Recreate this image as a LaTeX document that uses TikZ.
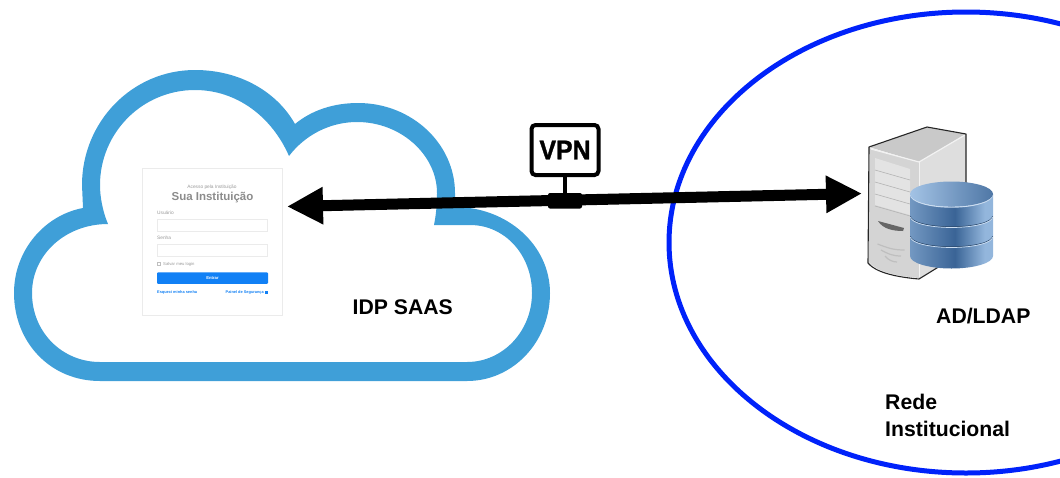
\documentclass[tikz,border=0pt]{standalone}
\usepackage{fontspec}
\setmainfont{Liberation Sans}
\newfontfamily\vpnfont[FakeBold=1.2,FakeStretch=0.92]{Liberation Sans Bold}
\usetikzlibrary{arrows.meta,calc}
\definecolor{cloudblue}{HTML}{3F9FD8}
\definecolor{netblue}{HTML}{0022FA}
\definecolor{formblue}{HTML}{1180F5}
\definecolor{dbdark}{HTML}{3A6496}
\definecolor{dbmid}{HTML}{7398C2}
\definecolor{dbside}{HTML}{93B6DC}
\definecolor{dblight}{HTML}{A3C3E5}
\pgfdeclarehorizontalshading{dbshade}{100bp}{
  color(0bp)=(dbmid); color(25bp)=(dbmid);
  color(52bp)=(dbdark); color(70bp)=(dbside); color(75bp)=(dbside); color(100bp)=(dbside)}
\tikzset{
  lbl/.style={font=\bfseries\fontsize{21.2}{24}\selectfont,text=black,inner sep=0pt,align=left},
  field/.style={draw=black!8,line width=.5pt,fill=white,minimum width=110pt,minimum height=12pt,inner sep=0pt},
  tiny/.style={font=\fontsize{4.8}{5}\selectfont,text=black!40,inner sep=0pt},
  tinyb/.style={font=\bfseries\fontsize{3.9}{5}\selectfont,text=formblue,inner sep=0pt},
}
\begin{document}
\begin{tikzpicture}[x=1pt,y=-1pt]
\useasboundingbox (0,0) rectangle (1060,477);
\clip (0,0) rectangle (1060,477);
% network ellipse
\draw[netblue,line width=5pt] (966,242.5) ellipse [x radius=297,y radius=230.5];
% cloud
\fill[cloudblue,even odd rule]
  (100,381) .. controls (50,381) and (14,342) .. (14,293)
  .. controls (14,250) and (45,215) .. (83,208)
  -- (82,185) .. controls (82,122) and (132,70) .. (195,70)
  .. controls (240,70) and (277,92) .. (295,124)
  .. controls (312,110) and (334,103) .. (358,103)
  .. controls (412,103) and (455,144) .. (455,193)
  -- (455,207) .. controls (507,207) and (550,245) .. (550,293)
  .. controls (550,342) and (513,381) .. (467,381) -- cycle
  (100,362) .. controls (62,362) and (32,332) .. (32,293)
  .. controls (32,255) and (65,224) .. (108,224)
  .. controls (103,212) and (100,198) .. (100,185)
  .. controls (100,133) and (142,90) .. (195,90)
  .. controls (237,90) and (272,117) .. (289,156)
  .. controls (305,135) and (330,122) .. (357,122)
  .. controls (401,122) and (437,155) .. (437,193)
  .. controls (437,205) and (436,215) .. (434,225)
  -- (470,225) .. controls (505,225) and (532,255) .. (532,293)
  .. controls (532,331) and (503,362) .. (467,362) -- cycle;
% login form
\node[draw=black!8,line width=.7pt,fill=white,minimum width=140pt,minimum height=147pt,inner sep=0pt] (form) at (212.5,242) {};
\node[tiny] (t1) at (212,187) {Acesso pela Instituição};
\node[font=\bfseries\fontsize{11.5}{13}\selectfont,text=black!45,inner sep=0pt] (t2) at (212.5,198) {Sua Instituição};
\node[tiny,anchor=west] (t3) at (157,213) {Usuário};
\node[field] (f1) at (212,225) {};
\node[tiny,anchor=west] (t4) at (157,238) {Senha};
\node[field] (f2) at (212,250) {};
\node[draw=black!25,line width=.3pt,minimum size=3pt,inner sep=0pt] (cb) at (159,264) {};
\node[tiny,font=\fontsize{4.2}{5}\selectfont,anchor=west] (t5) at (163,264) {Salvar meu login};
\node[fill=formblue,minimum width=111pt,minimum height=11.5pt,inner sep=0pt,rounded corners=1pt,text=white,font=\bfseries\fontsize{4.2}{5}\selectfont] (btn) at (212.5,278) {Entrar};
\node[tinyb,anchor=west] (l1) at (157,292) {Esqueci minha senha};
\node[tinyb,anchor=east] (l2) at (264,292) {Painel de Segurança};
\fill[formblue] (265,290.5) rectangle (268,293.5);
% server
\path (869,147) coordinate (sA) (927,127) coordinate (sB) (966,134) coordinate (sC)
      (919,162) coordinate (sD) (919,279) coordinate (sE) (868,263) coordinate (sF) (966,250) coordinate (sG);
\fill[black!21] (sA) -- (sB) -- (sC) -- (sD) -- cycle;
\fill[black!13] (sD) -- (sC) -- (sG) -- (sE) -- cycle;
\fill[black!17] (869,148) -- (919,162) -- (919,278) .. controls (895,276) and (875,271) .. (869,262) -- cycle;
\draw[black!5,line width=1.2pt] (871,149) -- (sD) -- (965,135);
\draw[black!5,line width=1pt] (sD) -- (919,277);
\draw[black!85,line width=1.1pt,line join=round] (sA) -- (sB) -- (sC) -- (sG) -- (sE) .. controls (895,277) and (875,272) .. (sF) -- cycle;
\fill[black!11] (875,158) -- (910,169) -- (910,215) -- (875,205) -- cycle;
\foreach \y in {0,1,2,3} \draw[black!30,line width=.6pt] (875,{170+\y*12}) -- (910,{180+\y*12});
\fill[black!60] (878,221) -- (904,228) -- (903,231) .. controls (893,231) and (883,229) .. (878,221) -- cycle;
\foreach \y/\w in {0/27,1/20,2/12} \draw[black!25,line width=1.2pt] ({891-\w/2},{244+\y*6}) .. controls (888,{248+\y*6}) and (893,{250+\y*6}) .. ({891+\w/2},{250+\y*6});
% database
\shade[shading=dbshade] (910,194) -- (910,256) arc[start angle=180,end angle=0,x radius=41.5,y radius=12.5] -- (993,194) -- cycle;
\foreach \y in {217,237} {
  \draw[dbdark!70!black,line width=.6pt] (910.5,{\y-.8}) arc[start angle=180,end angle=0,x radius=41,y radius=10.5];
  \draw[dblight!55!white,line width=.7pt] (910.5,\y) arc[start angle=180,end angle=0,x radius=41,y radius=10.5];
}
\draw[dblight!55!white,line width=1.4pt] (910.5,194.5) arc[start angle=180,end angle=0,x radius=41,y radius=12.5];
\shade[left color=dblight,right color=dbdark!80!dblight] (951.5,194) ellipse [x radius=41.5,y radius=12.5];
% VPN badge
\node[draw=black,line width=4pt,fill=white,rounded corners=4pt,minimum width=67pt,minimum height=50pt,inner sep=0pt,font=\vpnfont\fontsize{27}{30}\selectfont] (vpn) at (565,150) {VPN};
\coordinate (mid) at (565,200);
\draw[black,line width=4pt] (vpn.south) -- (mid);
% arrow
\coordinate (aL) at (287,206.5);
\coordinate (aR) at (862,193.5);
\draw[black,line width=11pt,>={Triangle[length=36pt,width=35pt]},<->] (aL) -- (aR);
\fill[black,rounded corners=2pt] (548,193) rectangle (582,208.5);
% labels
\node[lbl,anchor=west] (idp) at (352.5,307) {IDP SAAS};
\node[lbl,anchor=west] (ad) at (936,316) {AD/LDAP};
\node[lbl,anchor=west] (rede) at (885,401.5) {Rede};
\node[lbl,anchor=west] (inst) at (885,428.5) {Institucional};
\end{tikzpicture}
\end{document}
